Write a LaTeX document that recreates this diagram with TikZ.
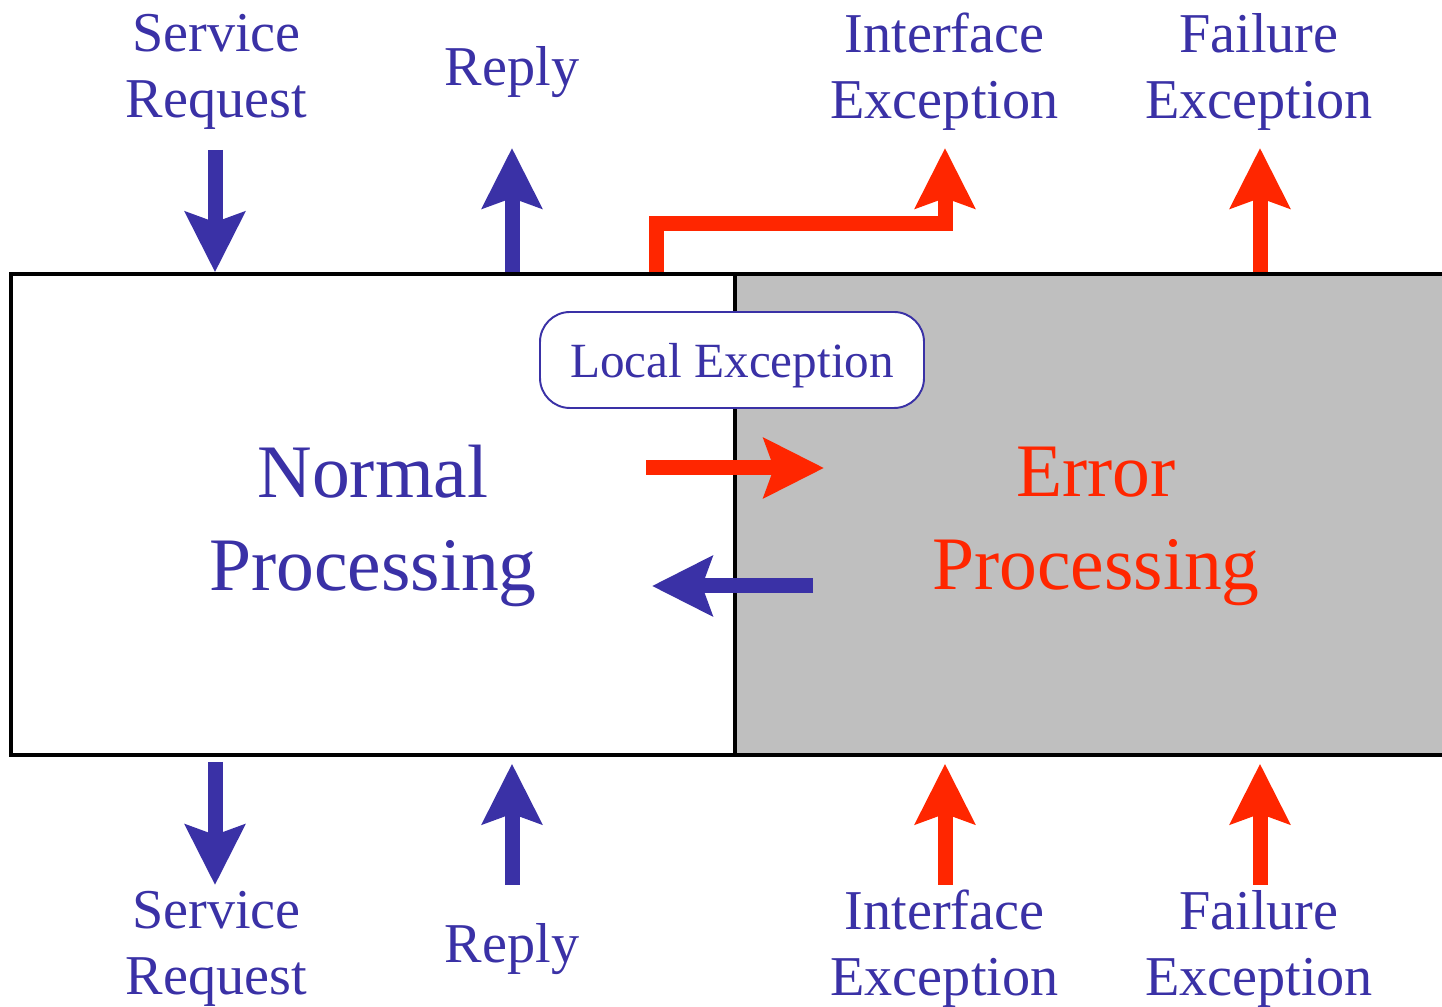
\documentclass[tikz,border=0pt]{standalone}
\usepackage{fontspec}
\setmainfont{Liberation Serif}
\usetikzlibrary{arrows.meta,calc}
\definecolor{normblue}{HTML}{3A31A6}
\definecolor{errred}{HTML}{FF2600}
\definecolor{errgray}{HTML}{BFBFBF}
\tikzset{
  flow/.style={line width=3mm, line join=miter,
               -{Stealth[length=12mm,width=11.8mm,inset=2mm]}},
  bflow/.style={flow, draw=normblue},
  rflow/.style={flow, draw=errred},
  lbl/.style={text=normblue, align=center, inner sep=0pt,
              font=\fontsize{32}{37.6}\selectfont},
  bigtxt/.style={align=center, inner sep=0pt,
                 font=\fontsize{43}{53}\selectfont},
  halfbox/.style={draw=black, line width=2pt, minimum height=9.62cm, inner sep=0pt},
  tagbox/.style={draw=normblue, fill=white, line width=1.1pt, rounded corners=0.6cm,
                 minimum width=7.68cm, minimum height=1.92cm, text=normblue,
                 text depth=0pt, font=\fontsize{28}{32}\selectfont},
}

\begin{document}
\begin{tikzpicture}
\useasboundingbox (0,0) rectangle (28.84,20.12);
\clip (0,0) rectangle (28.84,20.12);

% ===================== the two processing halves =====================
\node[halfbox, fill=white, minimum width=14.48cm] (normal) at (7.46,9.83) {};
\node[halfbox, fill=errgray, minimum width=14.40cm] (error) at (21.90,9.83) {};
\node[bigtxt, text=normblue] (normtxt) at (7.46,9.60) {Normal\\Processing};
\node[bigtxt, text=errred] (errtxt) at (21.92,9.60) {Error\\Processing};
\node[tagbox] (local) at (14.64,12.92) {Local Exception};

% ===================== labels above and below =====================
\node[lbl] (srtop) at (4.33,18.68) {Service\\Request};
\node[lbl] (rptop) at (10.24,18.68) {Reply};
\node[lbl] (ietop) at (18.89,18.68) {Interface\\Exception};
\node[lbl] (fetop) at (25.18,18.68) {Failure\\Exception};
\node[lbl] (srbot) at (4.33,1.14) {Service\\Request};
\node[lbl] (rpbot) at (10.24,1.14) {Reply};
\node[lbl] (iebot) at (18.89,1.14) {Interface\\Exception};
\node[lbl] (febot) at (25.18,1.14) {Failure\\Exception};

% free ends of the flows
\coordinate (srtopend) at (4.30,17.12);
\coordinate (rptopend) at (10.24,17.16);
\coordinate (ietopend) at (18.90,17.16);
\coordinate (fetopend) at (25.20,17.16);
\coordinate (bend)     at (13.12,15.64);
\coordinate (srbotend) at (4.30,2.42);
\coordinate (rpbotend) at (10.24,2.42);
\coordinate (iebotend) at (18.90,2.42);
\coordinate (febotend) at (25.20,2.42);
\coordinate (escin)  at (12.92,10.76);
\coordinate (escout) at (16.48,10.76);
\coordinate (retin)  at (16.26,8.40);
\coordinate (retout) at (13.04,8.40);

% ===================== flows across the top edge =====================
\draw[bflow] (srtopend) -- (srtopend |- normal.north);
\draw[bflow] (rptopend |- normal.north) -- (rptopend);
\draw[rflow] (bend |- normal.north) -- (bend) -| (ietopend);
\draw[rflow] (fetopend |- error.north) -- (fetopend);

% ===================== hand-over between the halves =====================
\draw[rflow] (escin) -- (escout);
\draw[bflow] (retin) -- (retout);

% ===================== flows across the bottom edge =====================
\draw[bflow] ($(srbotend |- normal.south)+(0,-0.1)$) -- (srbotend);
\draw[bflow] (rpbotend) -- ($(rpbotend |- normal.south)+(0,-0.14)$);
\draw[rflow] (iebotend) -- ($(iebotend |- error.south)+(0,-0.14)$);
\draw[rflow] (febotend) -- ($(febotend |- error.south)+(0,-0.14)$);

\end{tikzpicture}
\end{document}
